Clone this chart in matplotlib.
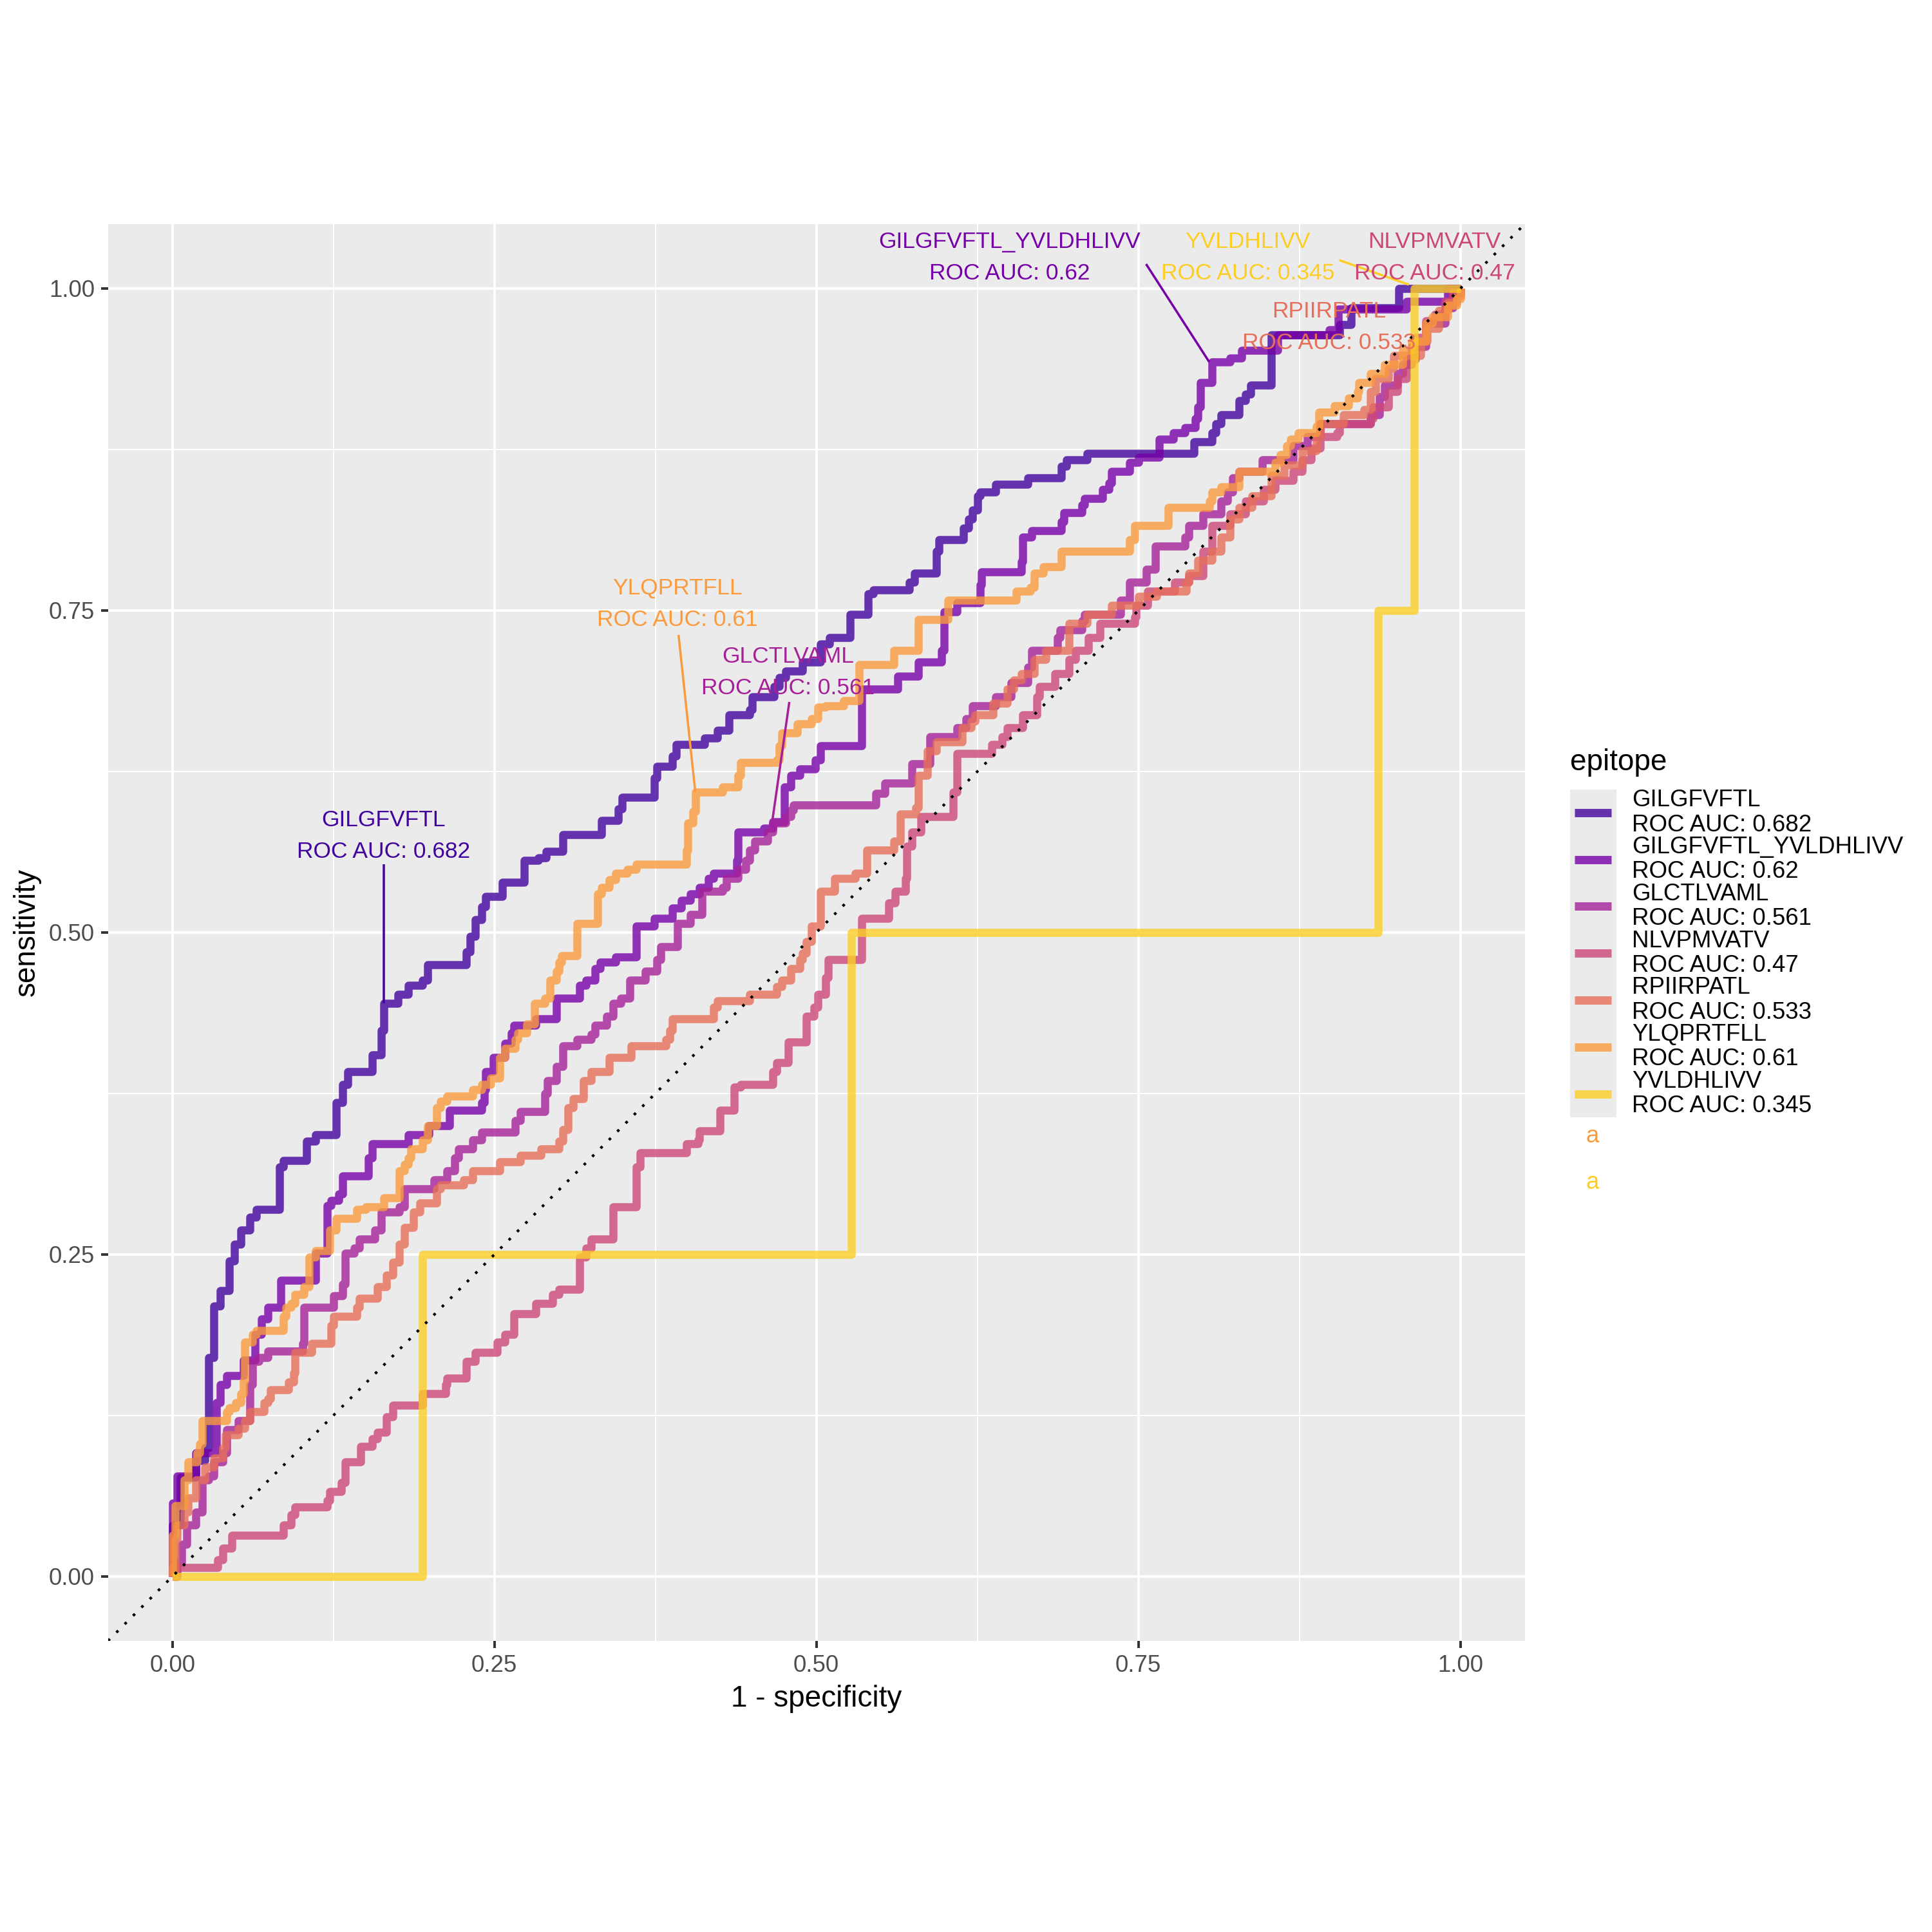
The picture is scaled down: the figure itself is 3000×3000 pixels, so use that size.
import numpy as np
import matplotlib
matplotlib.use('Agg')
import matplotlib.pyplot as plt
from matplotlib.lines import Line2D

plt.rcParams['font.family'] = ['Liberation Sans', 'DejaVu Sans']

# ROC curves (fpr, tpr) - step corners
EPITOPES = ['GILGFVFTL', 'GILGFVFTL_YVLDHLIVV', 'GLCTLVAML', 'NLVPMVATV',
            'RPIIRPATL', 'YLQPRTFLL', 'YVLDHLIVV']
AUCS = ['0.682', '0.62', '0.561', '0.47', '0.533', '0.61', '0.345']

GILGFVFTL_PTS = [
    (0, 0), (0, 0.04), (0.006, 0.077), (0.018, 0.09), (0.025, 0.10), (0.028, 0.17),
    (0.032, 0.21), (0.037, 0.222), (0.044, 0.245), (0.048, 0.258), (0.053, 0.269),
    (0.060, 0.279), (0.065, 0.285), (0.083, 0.318), (0.086, 0.323), (0.104, 0.338),
    (0.111, 0.343), (0.127, 0.368), (0.132, 0.382), (0.136, 0.392), (0.155, 0.405),
    (0.162, 0.424), (0.164, 0.445), (0.175, 0.452), (0.183, 0.459), (0.194, 0.463),
    (0.198, 0.475), (0.228, 0.485), (0.231, 0.497), (0.235, 0.51), (0.240, 0.52),
    (0.243, 0.528), (0.256, 0.539), (0.273, 0.556), (0.284, 0.558), (0.290, 0.563),
    (0.303, 0.576), (0.333, 0.587), (0.346, 0.596), (0.349, 0.605), (0.374, 0.620),
    (0.376, 0.629), (0.388, 0.637), (0.391, 0.646), (0.413, 0.651), (0.423, 0.657),
    (0.432, 0.669), (0.448, 0.673), (0.450, 0.683), (0.467, 0.691), (0.471, 0.698),
    (0.476, 0.703), (0.489, 0.710), (0.503, 0.724), (0.510, 0.729), (0.526, 0.747),
    (0.540, 0.763), (0.544, 0.766), (0.572, 0.772), (0.576, 0.779), (0.593, 0.796),
    (0.595, 0.805), (0.614, 0.814), (0.618, 0.821), (0.621, 0.828), (0.625, 0.839),
    (0.627, 0.842), (0.639, 0.848), (0.664, 0.853), (0.690, 0.862), (0.694, 0.867),
    (0.710, 0.872), (0.793, 0.881), (0.807, 0.888), (0.810, 0.895), (0.814, 0.902),
    (0.828, 0.913), (0.833, 0.918), (0.837, 0.925), (0.853, 0.964), (0.906, 0.972),
    (0.915, 0.985), (0.952, 1.0), (1.0, 1.0)]

GILGFVFTL_YVLDHLIVV_PTS = [
    (0, 0), (0, 0.057), (0.0035, 0.078), (0.018, 0.096), (0.034, 0.135), (0.037, 0.149),
    (0.042, 0.156), (0.055, 0.168), (0.064, 0.188), (0.069, 0.200), (0.074, 0.209),
    (0.084, 0.230), (0.111, 0.251), (0.120, 0.288), (0.123, 0.292), (0.129, 0.297),
    (0.132, 0.311), (0.152, 0.325), (0.155, 0.336), (0.183, 0.343), (0.199, 0.350),
    (0.215, 0.362), (0.240, 0.368), (0.242, 0.378), (0.243, 0.392), (0.249, 0.403),
    (0.258, 0.414), (0.263, 0.422), (0.265, 0.428), (0.282, 0.433), (0.298, 0.449),
    (0.316, 0.459), (0.321, 0.463), (0.328, 0.472), (0.332, 0.477), (0.344, 0.481),
    (0.360, 0.505), (0.374, 0.511), (0.388, 0.519), (0.395, 0.525), (0.402, 0.530),
    (0.409, 0.535), (0.416, 0.542), (0.420, 0.546), (0.438, 0.556), (0.439, 0.578),
    (0.459, 0.581), (0.466, 0.586), (0.475, 0.613), (0.480, 0.622), (0.487, 0.627),
    (0.499, 0.634), (0.503, 0.645), (0.535, 0.689), (0.563, 0.699), (0.579, 0.710),
    (0.597, 0.719), (0.599, 0.749), (0.609, 0.756), (0.627, 0.770), (0.628, 0.780),
    (0.659, 0.788), (0.660, 0.807), (0.667, 0.812), (0.690, 0.819), (0.692, 0.826),
    (0.706, 0.832), (0.708, 0.837), (0.722, 0.844), (0.727, 0.849), (0.729, 0.858),
    (0.743, 0.865), (0.750, 0.869), (0.766, 0.883), (0.777, 0.888), (0.786, 0.892),
    (0.794, 0.899), (0.796, 0.908), (0.798, 0.927), (0.807, 0.943), (0.821, 0.946),
    (0.830, 0.952), (0.858, 0.964), (0.898, 0.968), (0.905, 0.984), (0.958, 0.990),
    (0.990, 1.0), (1.0, 1.0)]

GLCTLVAML_PTS = [
    (0, 0), (0.0035, 0.011), (0.007, 0.025), (0.011, 0.040), (0.018, 0.050), (0.023, 0.075),
    (0.028, 0.078), (0.032, 0.089), (0.039, 0.096), (0.042, 0.114), (0.051, 0.121),
    (0.060, 0.149), (0.062, 0.167), (0.067, 0.170), (0.074, 0.175), (0.101, 0.181),
    (0.102, 0.209), (0.125, 0.218), (0.132, 0.227), (0.134, 0.251), (0.141, 0.255),
    (0.145, 0.262), (0.157, 0.269), (0.162, 0.283), (0.176, 0.287), (0.180, 0.301),
    (0.203, 0.308), (0.213, 0.315), (0.219, 0.325), (0.222, 0.332), (0.233, 0.339),
    (0.240, 0.345), (0.266, 0.354), (0.270, 0.361), (0.289, 0.375), (0.291, 0.385),
    (0.298, 0.396), (0.303, 0.412), (0.314, 0.417), (0.325, 0.421), (0.328, 0.428),
    (0.337, 0.435), (0.342, 0.445), (0.348, 0.449), (0.355, 0.463), (0.367, 0.470),
    (0.376, 0.479), (0.379, 0.489), (0.392, 0.507), (0.402, 0.514), (0.411, 0.532),
    (0.427, 0.535), (0.430, 0.542), (0.439, 0.549), (0.445, 0.556), (0.448, 0.564),
    (0.452, 0.571), (0.462, 0.578), (0.466, 0.585), (0.476, 0.590), (0.480, 0.595),
    (0.482, 0.599), (0.546, 0.608), (0.553, 0.616), (0.574, 0.631), (0.588, 0.652),
    (0.609, 0.659), (0.616, 0.666), (0.621, 0.676), (0.639, 0.683), (0.651, 0.694),
    (0.664, 0.706), (0.667, 0.719), (0.687, 0.729), (0.689, 0.735), (0.706, 0.742),
    (0.708, 0.747), (0.736, 0.758), (0.743, 0.772), (0.756, 0.782), (0.763, 0.800),
    (0.786, 0.807), (0.789, 0.816), (0.800, 0.825), (0.814, 0.835), (0.819, 0.842),
    (0.823, 0.853), (0.828, 0.858), (0.846, 0.867), (0.870, 0.878), (0.881, 0.885),
    (0.891, 0.895), (0.930, 0.902), (0.937, 0.916), (0.941, 0.925), (0.951, 0.934),
    (0.955, 0.941), (0.962, 0.955), (0.973, 0.973), (0.988, 0.985), (0.994, 0.996),
    (1.0, 1.0)]

NLVPMVATV_PTS = [
    (0, 0), (0, 0.007), (0.035, 0.013), (0.039, 0.022), (0.046, 0.032), (0.086, 0.040),
    (0.092, 0.048), (0.095, 0.054), (0.120, 0.059), (0.122, 0.066), (0.131, 0.073),
    (0.134, 0.089), (0.146, 0.101), (0.155, 0.107), (0.159, 0.112), (0.166, 0.124),
    (0.171, 0.133), (0.194, 0.142), (0.212, 0.149), (0.213, 0.154), (0.228, 0.167),
    (0.235, 0.174), (0.252, 0.182), (0.258, 0.188), (0.265, 0.204), (0.282, 0.212),
    (0.295, 0.219), (0.300, 0.223), (0.316, 0.248), (0.321, 0.255), (0.325, 0.262),
    (0.342, 0.287), (0.360, 0.318), (0.363, 0.329), (0.399, 0.336), (0.408, 0.339),
    (0.409, 0.346), (0.425, 0.362), (0.436, 0.380), (0.441, 0.382), (0.466, 0.392),
    (0.469, 0.399), (0.478, 0.415), (0.492, 0.435), (0.498, 0.442), (0.501, 0.452),
    (0.507, 0.465), (0.509, 0.479), (0.535, 0.511), (0.556, 0.523), (0.561, 0.532),
    (0.569, 0.542), (0.570, 0.567), (0.574, 0.578), (0.581, 0.590), (0.606, 0.609),
    (0.609, 0.639), (0.636, 0.646), (0.644, 0.652), (0.648, 0.659), (0.660, 0.669),
    (0.671, 0.683), (0.673, 0.691), (0.685, 0.701), (0.696, 0.712), (0.701, 0.719),
    (0.711, 0.729), (0.720, 0.740), (0.747, 0.745), (0.748, 0.754), (0.757, 0.765),
    (0.778, 0.772), (0.789, 0.777), (0.800, 0.796), (0.807, 0.816), (0.821, 0.825),
    (0.833, 0.835), (0.847, 0.844), (0.856, 0.851), (0.870, 0.858), (0.877, 0.867),
    (0.884, 0.876), (0.891, 0.885), (0.904, 0.888), (0.906, 0.895), (0.930, 0.899),
    (0.932, 0.908), (0.944, 0.920), (0.951, 0.930), (0.958, 0.945), (0.965, 0.962),
    (0.973, 0.975), (0.980, 0.980), (0.988, 0.990), (0.994, 0.997), (1.0, 1.0)]

RPIIRPATL_PTS = [
    (0, 0), (0.002, 0.029), (0.0035, 0.040), (0.009, 0.050), (0.012, 0.061), (0.018, 0.075),
    (0.025, 0.085), (0.032, 0.092), (0.039, 0.100), (0.041, 0.110), (0.051, 0.115),
    (0.056, 0.121), (0.060, 0.128), (0.071, 0.135), (0.074, 0.138), (0.076, 0.145),
    (0.090, 0.151), (0.094, 0.158), (0.095, 0.174), (0.108, 0.181), (0.123, 0.195),
    (0.125, 0.202), (0.143, 0.209), (0.145, 0.216), (0.159, 0.225), (0.166, 0.234),
    (0.171, 0.244), (0.176, 0.258), (0.180, 0.271), (0.187, 0.283), (0.192, 0.290),
    (0.205, 0.301), (0.208, 0.304), (0.226, 0.308), (0.233, 0.315), (0.254, 0.322),
    (0.270, 0.327), (0.286, 0.332), (0.300, 0.338), (0.303, 0.347), (0.307, 0.364),
    (0.311, 0.371), (0.319, 0.385), (0.325, 0.392), (0.339, 0.403), (0.356, 0.412),
    (0.383, 0.417), (0.386, 0.424), (0.388, 0.433), (0.420, 0.442), (0.423, 0.447),
    (0.448, 0.452), (0.469, 0.458), (0.473, 0.463), (0.480, 0.472), (0.487, 0.479),
    (0.489, 0.484), (0.492, 0.493), (0.496, 0.505), (0.503, 0.532), (0.514, 0.542),
    (0.530, 0.546), (0.539, 0.564), (0.560, 0.571), (0.565, 0.592), (0.577, 0.597),
    (0.579, 0.622), (0.586, 0.641), (0.593, 0.648), (0.613, 0.659), (0.620, 0.664),
    (0.623, 0.669), (0.637, 0.678), (0.648, 0.689), (0.653, 0.696), (0.659, 0.701),
    (0.669, 0.712), (0.678, 0.719), (0.696, 0.740), (0.710, 0.747), (0.729, 0.754),
    (0.750, 0.761), (0.764, 0.765), (0.787, 0.772), (0.789, 0.779), (0.796, 0.789),
    (0.807, 0.796), (0.814, 0.807), (0.821, 0.821), (0.828, 0.830), (0.838, 0.839),
    (0.853, 0.855), (0.863, 0.863), (0.877, 0.874), (0.888, 0.885), (0.891, 0.895),
    (0.909, 0.902), (0.925, 0.906), (0.930, 0.920), (0.934, 0.930), (0.944, 0.938),
    (0.948, 0.948), (0.969, 0.959), (0.974, 0.969), (0.983, 0.983), (0.990, 0.989),
    (0.997, 0.994), (1.0, 1.0)]

YLQPRTFLL_PTS = [
    (0, 0), (0, 0.032), (0.002, 0.055), (0.009, 0.075), (0.012, 0.089), (0.019, 0.096),
    (0.021, 0.103), (0.023, 0.121), (0.042, 0.128), (0.044, 0.131), (0.049, 0.135),
    (0.053, 0.142), (0.055, 0.152), (0.056, 0.182), (0.062, 0.188), (0.065, 0.191),
    (0.086, 0.202), (0.088, 0.209), (0.092, 0.212), (0.095, 0.219), (0.102, 0.225),
    (0.106, 0.248), (0.111, 0.253), (0.122, 0.269), (0.127, 0.278), (0.143, 0.285),
    (0.150, 0.287), (0.164, 0.294), (0.176, 0.315), (0.180, 0.320), (0.183, 0.325),
    (0.185, 0.332), (0.194, 0.339), (0.198, 0.350), (0.205, 0.364), (0.208, 0.369),
    (0.213, 0.373), (0.233, 0.378), (0.240, 0.382), (0.247, 0.387), (0.254, 0.403),
    (0.258, 0.410), (0.266, 0.417), (0.268, 0.422), (0.275, 0.429), (0.281, 0.445),
    (0.289, 0.449), (0.293, 0.463), (0.298, 0.470), (0.300, 0.477), (0.302, 0.482),
    (0.314, 0.507), (0.330, 0.530), (0.333, 0.535), (0.339, 0.541), (0.344, 0.546),
    (0.353, 0.549), (0.360, 0.553), (0.399, 0.564), (0.400, 0.585), (0.404, 0.594),
    (0.406, 0.609), (0.427, 0.613), (0.439, 0.622), (0.441, 0.632), (0.469, 0.634),
    (0.471, 0.645), (0.473, 0.655), (0.485, 0.662), (0.496, 0.666), (0.501, 0.675),
    (0.507, 0.676), (0.521, 0.680), (0.533, 0.708), (0.560, 0.719), (0.579, 0.743),
    (0.602, 0.758), (0.655, 0.765), (0.666, 0.768), (0.669, 0.779), (0.676, 0.784),
    (0.690, 0.796), (0.743, 0.805), (0.747, 0.816), (0.773, 0.830), (0.805, 0.835),
    (0.807, 0.842), (0.814, 0.846), (0.828, 0.858), (0.856, 0.865), (0.860, 0.871),
    (0.865, 0.878), (0.868, 0.883), (0.874, 0.888), (0.888, 0.893), (0.890, 0.904),
    (0.902, 0.909), (0.913, 0.915), (0.920, 0.920), (0.921, 0.927), (0.930, 0.934),
    (0.941, 0.941), (0.955, 0.952), (0.962, 0.959), (0.973, 0.973), (0.978, 0.978),
    (0.990, 0.987), (0.997, 0.992), (1.0, 1.0)]

YVLDHLIVV_PTS = [(0, 0), (0.194, 0.25), (0.527, 0.5), (0.936, 0.75), (0.964, 1.0), (1.0, 1.0)]

CURVES = [GILGFVFTL_PTS, GILGFVFTL_YVLDHLIVV_PTS, GLCTLVAML_PTS, NLVPMVATV_PTS,
          RPIIRPATL_PTS, YLQPRTFLL_PTS, YVLDHLIVV_PTS]

# repelled labels: label centre and segment (start -> point on curve), None = no segment
LABEL_POS = [(0.164, 0.575), (0.650, 1.024), (0.478, 0.702), (0.980, 1.024),
             (0.898, 0.970), (0.392, 0.755), (0.835, 1.024)]
LABEL_SEG = [((0.164, 0.553), (0.164, 0.445)),
             ((0.756, 1.019), (0.805, 0.943)),
             ((0.479, 0.679), (0.466, 0.588)),
             None,
             None,
             ((0.393, 0.731), (0.406, 0.609)),
             ((0.906, 1.022), (0.960, 1.003))]

colors = plt.get_cmap('plasma')(np.linspace(0.1, 0.9, len(EPITOPES)))

fig = plt.figure(figsize=(10, 10), dpi=300)
ax = fig.add_axes([0.0559, 0.1507, 0.7333, 0.7333])
ax.set_facecolor('#EBEBEB')
for s in ax.spines.values():
    s.set_visible(False)

ax.set_xlim(-0.05, 1.05)
ax.set_ylim(-0.05, 1.05)
ticks = [0, 0.25, 0.5, 0.75, 1.0]
ax.set_xticks(ticks)
ax.set_yticks(ticks)
ax.set_xticklabels(['%.2f' % t for t in ticks])
ax.set_yticklabels(['%.2f' % t for t in ticks])
ax.set_xticks([0.125, 0.375, 0.625, 0.875], minor=True)
ax.set_yticks([0.125, 0.375, 0.625, 0.875], minor=True)
ax.grid(which='major', color='white', lw=0.95)
ax.grid(which='minor', color='white', lw=0.48)
ax.set_axisbelow(True)
ax.tick_params(which='major', length=2.75, width=0.95, color='#333333',
               labelsize=8.8, labelcolor='#4D4D4D', pad=2.2)
ax.tick_params(which='minor', length=0)

for pts, c in zip(CURVES, colors):
    xs = [p[0] for p in pts]
    ys = [p[1] for p in pts]
    ax.step(xs, ys, where='post', color=c, lw=3.0, alpha=0.8,
            solid_joinstyle='round', solid_capstyle='butt')

ax.axline((0, 0), slope=1, color='black', lw=1.0, linestyle=(0, (1, 3.4)))

for name, auc, pos, seg, c in zip(EPITOPES, AUCS, LABEL_POS, LABEL_SEG, colors):
    if seg is not None:
        ax.plot([seg[0][0], seg[1][0]], [seg[0][1], seg[1][1]], color=c, lw=0.85,
                solid_capstyle='butt')
    ax.text(pos[0], pos[1], name + '\nROC AUC: ' + auc, color=c, fontsize=8.5,
            ha='center', va='center', linespacing=1.63, clip_on=False)

fig.text(0.4226, 0.1167, '1 - specificity', fontsize=11, ha='center', va='baseline')
fig.text(0.014, 0.5174, 'sensitivity', fontsize=11, ha='center', va='center',
         rotation=90)

# legend
fig.text(0.8128, 0.6013, 'epitope', fontsize=11, va='baseline')
lax = fig.add_axes([0.8128, 0.4217, 0.0237, 0.1698])
lax.set_facecolor('#EBEBEB')
lax.set_xlim(0, 1)
lax.set_ylim(0, len(EPITOPES))
lax.set_xticks([])
lax.set_yticks([])
for s in lax.spines.values():
    s.set_visible(False)
for i, (name, auc, c) in enumerate(zip(EPITOPES, AUCS, colors)):
    yc = len(EPITOPES) - i - 0.5
    lax.add_line(Line2D([0.09, 0.9], [yc, yc], color=c, lw=3.1, alpha=0.8,
                        solid_capstyle='butt'))
    fy = 0.4217 + 0.1698 * yc / len(EPITOPES)
    fig.text(0.8447, fy, name + '\nROC AUC: ' + auc, fontsize=8.8, va='center',
             ha='left', linespacing=1.12)

fig.text(0.8243, 0.4117, 'a', color=colors[5], fontsize=8.8, ha='center', va='center')
fig.text(0.8243, 0.3877, 'a', color=colors[6], fontsize=8.8, ha='center', va='center')

fig.savefig('out.png', dpi=300)
